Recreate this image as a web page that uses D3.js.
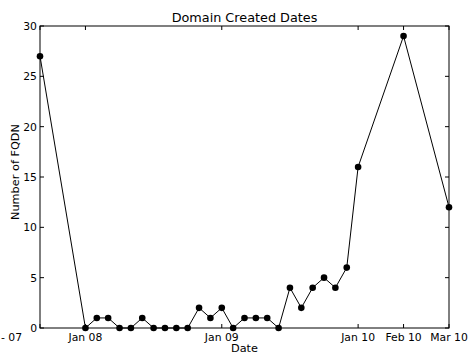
<!DOCTYPE html>
<html>
<head>
<meta charset="utf-8">
<script src="https://cdn.jsdelivr.net/npm/d3@7"></script>
<style>
  html, body { margin: 0; padding: 0; background: #fff; }
  svg { display: block; font-family: "DejaVu Sans", sans-serif; }
</style>
</head>
<body>
<script>
// Monthly slots (0 = Jan 08) and the number of FQDNs created in each.
const slots  = [-4, 0, 1, 2, 3, 4, 5, 6, 7, 8, 9, 10, 11, 12, 13, 14, 15, 16, 17, 18, 19, 20, 21, 22, 23, 24, 28, 32];
const counts = [27, 0, 1, 1, 0, 0, 1, 0, 0, 0, 0, 2, 1, 2, 0, 1, 1, 1, 0, 4, 2, 4, 5, 4, 6, 16, 29, 12];

const xTickSlots  = [-4, 0, 12, 24, 28, 32];
const xTickLabels = ["- 07", "Jan 08", "Jan 09", "Jan 10", "Feb 10", "Mar 10"];
const yTicks = [0, 5, 10, 15, 20, 25, 30];

const W = 469, H = 354;
const m = { left: 40, right: 20, top: 26, bottom: 26 };

const svg = d3.select("body").append("svg").attr("width", W).attr("height", H);

const x = d3.scaleLinear().domain([-4, 32]).range([m.left, W - m.right]);
const y = d3.scaleLinear().domain([0, 30]).range([H - m.bottom, m.top]);

const tickLen = 4;
const tickFont = 10.8, labelFont = 11.3;

// frame
svg.append("rect")
  .attr("x", x(-4)).attr("y", y(30))
  .attr("width", x(32) - x(-4)).attr("height", y(0) - y(30))
  .attr("fill", "none").attr("stroke", "#000").attr("stroke-width", 1);

// inward ticks on all four sides
const tickG = svg.append("g").attr("stroke", "#000").attr("stroke-width", 1);
xTickSlots.forEach(s => {
  tickG.append("line").attr("x1", x(s)).attr("x2", x(s)).attr("y1", y(0)).attr("y2", y(0) - tickLen);
  tickG.append("line").attr("x1", x(s)).attr("x2", x(s)).attr("y1", y(30)).attr("y2", y(30) + tickLen);
});
yTicks.forEach(v => {
  tickG.append("line").attr("x1", x(-4)).attr("x2", x(-4) + tickLen).attr("y1", y(v)).attr("y2", y(v));
  tickG.append("line").attr("x1", x(32)).attr("x2", x(32) - tickLen).attr("y1", y(v)).attr("y2", y(v));
});

// tick labels
xTickSlots.forEach((s, i) => {
  const first = i === 0;
  svg.append("text")
    .attr("x", first ? 1 : x(s))
    .attr("y", y(0) + 12.5)
    .attr("text-anchor", first ? "start" : "middle")
    .attr("font-size", tickFont)
    .text(xTickLabels[i]);
});
yTicks.forEach(v => {
  svg.append("text")
    .attr("x", x(-4) - 3)
    .attr("y", y(v) + 4)
    .attr("text-anchor", "end")
    .attr("font-size", tickFont)
    .text(v);
});

// series line and markers
const pts = slots.map((s, i) => [s, counts[i]]);
svg.append("path")
  .datum(pts)
  .attr("fill", "none")
  .attr("stroke", "#000")
  .attr("stroke-width", 1)
  .attr("d", d3.line().x(d => x(d[0])).y(d => y(d[1])));

svg.append("g").selectAll("circle").data(pts).join("circle")
  .attr("cx", d => x(d[0])).attr("cy", d => y(d[1]))
  .attr("r", 3.3).attr("fill", "#000");

// titles
svg.append("text")
  .attr("x", (x(-4) + x(32)) / 2).attr("y", 22)
  .attr("text-anchor", "middle").attr("font-size", 12.8)
  .text("Domain Created Dates");

svg.append("text")
  .attr("x", (x(-4) + x(32)) / 2).attr("y", 352)
  .attr("text-anchor", "middle").attr("font-size", labelFont)
  .text("Date");

svg.append("text")
  .attr("transform", `translate(19, 172) rotate(-90)`)
  .attr("text-anchor", "middle").attr("font-size", labelFont)
  .text("Number of FQDN");
</script>
</body>
</html>
